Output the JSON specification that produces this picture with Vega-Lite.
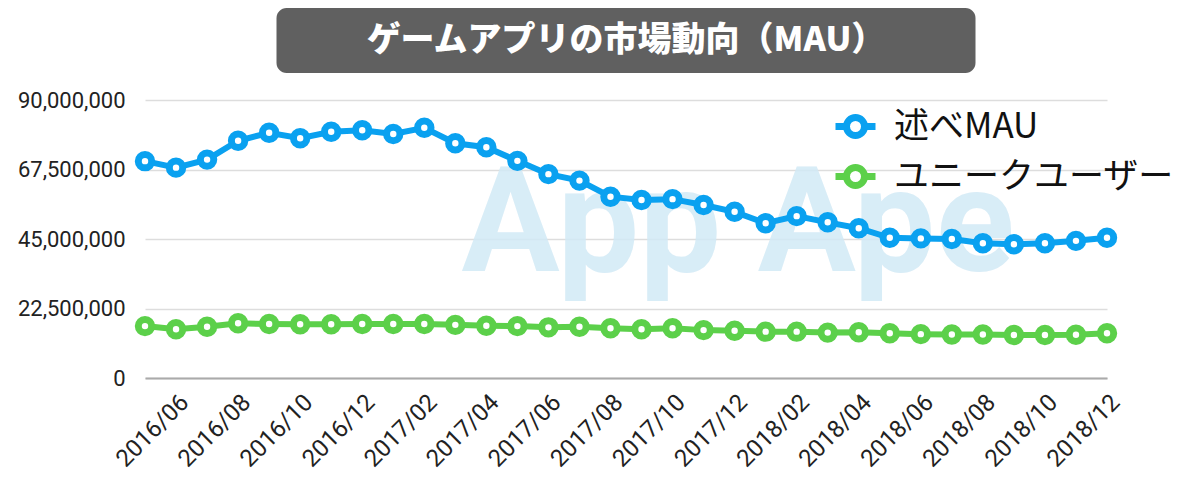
{
  "$schema": "https://vega.github.io/schema/vega-lite/v6.json",
  "padding": {"left": 17, "top": 8, "right": 5, "bottom": 5},
  "background": "white",
  "config": {"view": {"stroke": null}, "font": "Roboto"},
  "spacing": 27,
  "bounds": "flush",
  "center": true,
  "vconcat": [
    {
      "width": 699,
      "height": 65,
      "view": {"fill": "#606060", "cornerRadius": 10, "stroke": null},
      "data": {"values": [{"t": "ゲームアプリの市場動向（MAU）"}]},
      "mark": {"type": "text", "font": "Noto Sans CJK JP", "fontWeight": 900, "fontSize": 34, "color": "white", "baseline": "middle", "align": "center"},
      "encoding": {"text": {"field": "t"}}
    },
    {
      "width": 962,
      "height": 278,
      "layer": [
        {
          "data": {"values": [{"w": "App Ape"}]},
          "mark": {"type": "text", "font": "Roboto", "fontWeight": "bold", "fontSize": 146, "color": "#d2eaf6", "opacity": 0.85, "baseline": "middle", "align": "center", "dx": 112, "dy": -12},
          "encoding": {"text": {"field": "w"}}
        },
        {
          "data": {"name": "d"},
          "transform": [{"fold": ["述べMAU", "ユニークユーザー"], "as": ["series", "value"]}],
          "mark": {"type": "line", "strokeWidth": 6},
          "encoding": {
            "x": {"field": "month", "type": "ordinal", "scale": {"type": "point", "padding": 0},
              "axis": {"title": null, "values": ["2016/06","2016/08","2016/10","2016/12","2017/02","2017/04","2017/06","2017/08","2017/10","2017/12","2018/02","2018/04","2018/06","2018/08","2018/10","2018/12"],
                "labelAngle": -45, "labelFontSize": 24, "labelColor": "#222", "labelFont": "Roboto", "ticks": false, "labelPadding": 12, "domainColor": "#aaaaaa", "domainWidth": 2, "grid": false}},
            "y": {"field": "value", "type": "quantitative", "scale": {"domain": [0, 90000000], "nice": false},
              "axis": {"title": null, "values": [0, 22500000, 45000000, 67500000, 90000000], "format": ",d", "labelFontSize": 22, "labelColor": "#222", "labelFont": "Roboto", "ticks": false, "labelPadding": 20, "domain": false, "gridColor": "#dddddd", "gridWidth": 1.5}},
            "stroke": {"field": "series", "type": "nominal", "sort": ["述べMAU", "ユニークユーザー"],
              "scale": {"domain": ["述べMAU", "ユニークユーザー"], "range": ["#0aa1f0", "#5cd04a"]},
              "legend": {"title": null, "orient": "none", "legendX": 687, "legendY": 95, "padding": 0,
                "labelFont": "Noto Sans CJK JP", "labelFontSize": 35, "labelColor": "#111", "labelOffset": 15, "labelLimit": 500,
                "symbolType": "M-1,0L-0.45,0M0.45,0L1,0M-0.45,0A0.45,0.45,0,1,0,0.45,0A0.45,0.45,0,1,0,-0.45,0Z",
                "symbolSize": 1600, "symbolStrokeWidth": 7, "symbolFillColor": "white", "rowPadding": 3}}
          }
        },
        {
          "data": {"name": "d"},
          "transform": [{"fold": ["述べMAU", "ユニークユーザー"], "as": ["series", "value"]}],
          "mark": {"type": "point", "shape": "circle", "filled": true, "fill": "white", "fillOpacity": 1, "opacity": 1, "strokeWidth": 7, "size": 180},
          "encoding": {
            "x": {"field": "month", "type": "ordinal"},
            "y": {"field": "value", "type": "quantitative"},
            "stroke": {"field": "series", "type": "nominal"}
          }
        }
      ]
    }
  ],
  "datasets": {
    "d": [
      {"month": "2016/05", "述べMAU": 70200000, "ユニークユーザー": 16800000},
      {"month": "2016/06", "述べMAU": 68100000, "ユニークユーザー": 15800000},
      {"month": "2016/07", "述べMAU": 70700000, "ユニークユーザー": 16600000},
      {"month": "2016/08", "述べMAU": 76800000, "ユニークユーザー": 17700000},
      {"month": "2016/09", "述べMAU": 79400000, "ユニークユーザー": 17500000},
      {"month": "2016/10", "述べMAU": 77600000, "ユニークユーザー": 17400000},
      {"month": "2016/11", "述べMAU": 79700000, "ユニークユーザー": 17400000},
      {"month": "2016/12", "述べMAU": 80200000, "ユニークユーザー": 17500000},
      {"month": "2017/01", "述べMAU": 79000000, "ユニークユーザー": 17500000},
      {"month": "2017/02", "述べMAU": 81000000, "ユニークユーザー": 17500000},
      {"month": "2017/03", "述べMAU": 76000000, "ユニークユーザー": 17200000},
      {"month": "2017/04", "述べMAU": 74700000, "ユニークユーザー": 16900000},
      {"month": "2017/05", "述べMAU": 70300000, "ユニークユーザー": 16800000},
      {"month": "2017/06", "述べMAU": 66000000, "ユニークユーザー": 16400000},
      {"month": "2017/07", "述べMAU": 63900000, "ユニークユーザー": 16600000},
      {"month": "2017/08", "述べMAU": 58700000, "ユニークユーザー": 16100000},
      {"month": "2017/09", "述べMAU": 57600000, "ユニークユーザー": 15800000},
      {"month": "2017/10", "述べMAU": 57900000, "ユニークユーザー": 16100000},
      {"month": "2017/11", "述べMAU": 56000000, "ユニークユーザー": 15500000},
      {"month": "2017/12", "述べMAU": 53800000, "ユニークユーザー": 15300000},
      {"month": "2018/01", "述べMAU": 50100000, "ユニークユーザー": 15000000},
      {"month": "2018/02", "述べMAU": 52400000, "ユニークユーザー": 15000000},
      {"month": "2018/03", "述べMAU": 50400000, "ユニークユーザー": 14700000},
      {"month": "2018/04", "述べMAU": 48500000, "ユニークユーザー": 14800000},
      {"month": "2018/05", "述べMAU": 45400000, "ユニークユーザー": 14500000},
      {"month": "2018/06", "述べMAU": 45200000, "ユニークユーザー": 14200000},
      {"month": "2018/07", "述べMAU": 45000000, "ユニークユーザー": 14100000},
      {"month": "2018/08", "述べMAU": 43600000, "ユニークユーザー": 14100000},
      {"month": "2018/09", "述べMAU": 43300000, "ユニークユーザー": 13900000},
      {"month": "2018/10", "述べMAU": 43600000, "ユニークユーザー": 13900000},
      {"month": "2018/11", "述べMAU": 44400000, "ユニークユーザー": 14000000},
      {"month": "2018/12", "述べMAU": 45400000, "ユニークユーザー": 14500000}
    ]
  }
}
